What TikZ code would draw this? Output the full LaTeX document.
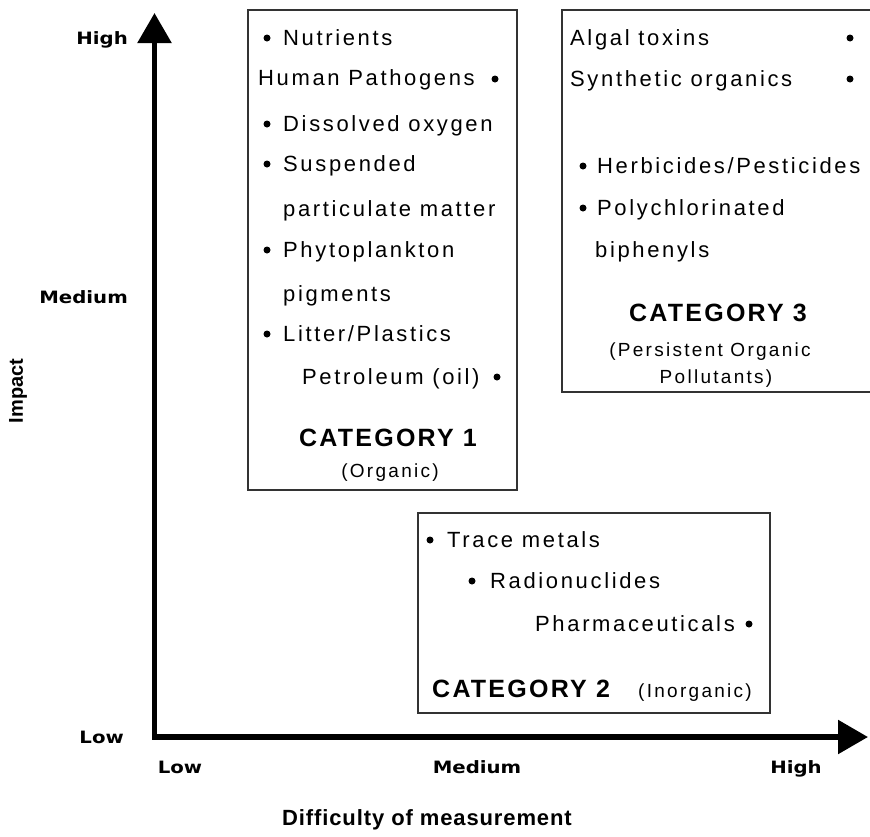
\documentclass[tikz,border=0pt]{standalone}
\usepackage{fontspec}
\setmainfont{Liberation Sans}
\newfontfamily\itemfont[LetterSpace=12]{Liberation Sans}
\newfontfamily\catfont[LetterSpace=9]{Liberation Sans}
\newfontfamily\parfont[LetterSpace=12]{Liberation Sans}
\newfontfamily\axfont[FakeStretch=1.16]{DejaVu Sans}
\newfontfamily\titfont[LetterSpace=4]{Liberation Sans}
\usetikzlibrary{arrows.meta}
\definecolor{boxgray}{HTML}{333333}
\tikzset{
  catbox/.style={draw=boxgray, line width=1.5pt},
  itemtext/.style={anchor=base west, inner sep=0pt, font=\itemfont\fontsize{22}{26}\selectfont},
  cattext/.style={anchor=base, inner sep=0pt, font=\catfont\bfseries\fontsize{25}{30}\selectfont},
  partext/.style={anchor=base, inner sep=0pt, font=\parfont\fontsize{19}{23}\selectfont},
  dot/.style={circle, fill=black, inner sep=0pt, minimum size=7pt},
  axlabel/.style={inner sep=0pt, font=\axfont\bfseries\fontsize{17}{20}\selectfont},
  axisline/.style={line width=5.5pt, line join=miter,
     {Triangle[length=30pt,width=33pt]}-{Triangle[length=30pt,width=33pt]}},
}
\begin{document}
\begin{tikzpicture}[x=1pt,y=-1pt]
\useasboundingbox (0,0) rectangle (870,836);

% axes
\coordinate (ytip) at (154.5,13);
\coordinate (origin) at (154.5,737);
\coordinate (xtip) at (868,737);
\draw[axisline] (ytip) -- (origin) -- (xtip);

% axis labels
\node[axlabel, anchor=base east] (yhigh) at (128,44) {High};
\node[axlabel, anchor=base east] (ymed) at (128,303) {Medium};
\node[axlabel, anchor=base east] (ylow) at (124,743) {Low};
\node[axlabel, anchor=base] (xlow) at (180,773) {Low};
\node[axlabel, anchor=base] (xmed) at (477,773) {Medium};
\node[axlabel, anchor=base] (xhigh) at (796,773) {High};
\node[inner sep=0pt, anchor=base, font=\titfont\bfseries\fontsize{22}{26}\selectfont] (xtitle) at (427,825) {Difficulty of measurement};
\node[inner sep=0pt, rotate=90, font=\bfseries\fontsize{20}{24}\selectfont] (ytitle) at (18,391) {Impact};

% Category 1 box
\draw[catbox] (248,10) rectangle (517,490);
\node[dot] (b1a) at (267,38) {};
\node[itemtext] (t1a) at (283,45) {Nutrients};
\node[itemtext] (t1b) at (258,85) {Human Pathogens};
\node[dot] (b1b) at (495,79) {};
\node[dot] (b1c) at (267,124) {};
\node[itemtext] (t1c) at (283,131) {Dissolved oxygen};
\node[dot] (b1d) at (267,164) {};
\node[itemtext] (t1d) at (283,171) {Suspended};
\node[itemtext] (t1e) at (283,216) {particulate matter};
\node[dot] (b1f) at (267,250) {};
\node[itemtext] (t1f) at (283,257) {Phytoplankton};
\node[itemtext] (t1g) at (283,301) {pigments};
\node[dot] (b1h) at (267,334) {};
\node[itemtext] (t1h) at (283,341) {Litter/Plastics};
\node[itemtext] (t1i) at (302,384) {Petroleum (oil)};
\node[dot] (b1i) at (497,377) {};
\node[cattext] (c1) at (388,446) {CATEGORY 1};
\node[partext] (p1) at (390,477) {(Organic)};

% Category 3 box
\draw[catbox] (562,10) rectangle (876,392);
\node[itemtext] (t3a) at (570,45) {Algal toxins};
\node[dot] (b3a) at (850,38) {};
\node[itemtext] (t3b) at (570,86) {Synthetic organics};
\node[dot] (b3b) at (850,79) {};
\node[dot] (b3c) at (583,166) {};
\node[itemtext] (t3c) at (597,173) {Herbicides/Pesticides};
\node[dot] (b3d) at (583,208) {};
\node[itemtext] (t3d) at (597,215) {Polychlorinated};
\node[itemtext] (t3e) at (595,257) {biphenyls};
\node[cattext] (c3) at (718,321) {CATEGORY 3};
\node[partext] (p3a) at (710,356) {(Persistent Organic};
\node[partext] (p3b) at (716,383) {Pollutants)};

% Category 2 box
\draw[catbox] (418,513) rectangle (770,713);
\node[dot] (b2a) at (430,540) {};
\node[itemtext] (t2a) at (447,547) {Trace metals};
\node[dot] (b2b) at (472,581) {};
\node[itemtext] (t2b) at (490,588) {Radionuclides};
\node[itemtext] (t2c) at (535,631) {Pharmaceuticals};
\node[dot] (b2c) at (749,624) {};
\node[cattext, anchor=base west] (c2) at (432,697) {CATEGORY 2};
\node[partext, anchor=base west] (p2) at (638,697) {(Inorganic)};
\end{tikzpicture}
\end{document}
